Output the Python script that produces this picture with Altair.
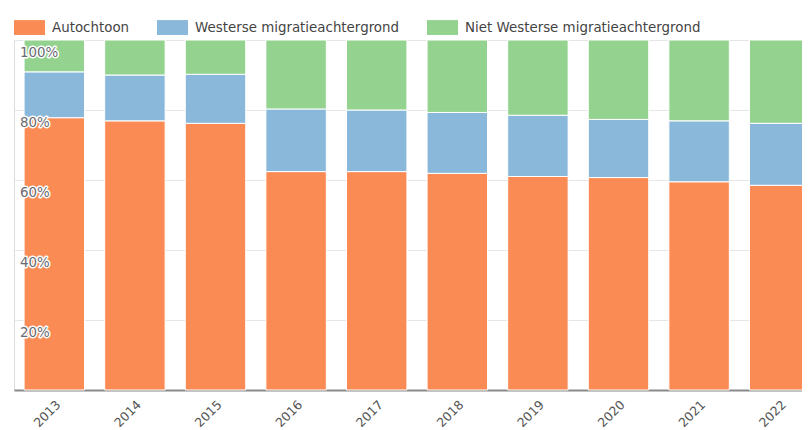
import altair as alt
import pandas as pd

years = ["2013", "2014", "2015", "2016", "2017", "2018", "2019", "2020", "2021", "2022"]
categories = ["Autochtoon", "Westerse migratieachtergrond", "Niet Westerse migratieachtergrond"]
autochtoon = [77.8, 76.9, 76.2, 62.4, 62.4, 61.9, 61.0, 60.7, 59.5, 58.5]
westers = [13.1, 13.1, 14.0, 17.9, 17.6, 17.4, 17.5, 16.6, 17.4, 17.7]
niet_westers = [9.1, 10.0, 9.8, 19.7, 20.0, 20.7, 21.5, 22.7, 23.1, 23.8]
colors = ["#FA8B55", "#8AB8DB", "#93D38F"]
tick_values = [0.2, 0.4, 0.6, 0.8, 1.0]
tick_labels = ["20%", "40%", "60%", "80%", "100%"]

rows = []
for i, y in enumerate(years):
    for j, (cat, series) in enumerate(zip(categories, [autochtoon, westers, niet_westers])):
        rows.append({"jaar": y, "groep": cat, "pct": series[i], "idx": j})
df = pd.DataFrame(rows)
labels_df = pd.DataFrame({"v": tick_values, "label": tick_labels})

font = "DejaVu Sans"

bars = alt.Chart(df).mark_bar(stroke="white", strokeWidth=1).encode(
    x=alt.X("jaar:N", sort=years,
            scale=alt.Scale(range=[0, 806], paddingInner=0.25, paddingOuter=0.125),
            axis=alt.Axis(title=None, labelAngle=-45, ticks=False, labelPadding=8,
                          labelFontSize=12.5, labelColor="#555", labelFont=font,
                          domainColor="#8a8a8a", domainWidth=2, grid=False)),
    y=alt.Y("pct:Q", stack="normalize",
            scale=alt.Scale(domain=[0, 1], nice=False),
            axis=alt.Axis(title=None, labels=False, ticks=False, domain=False,
                          grid=True, gridColor="#e6e6e6",
                          values=[0.1 * k for k in range(11)])),
    color=alt.Color("groep:N", sort=categories,
                    scale=alt.Scale(domain=categories, range=colors),
                    legend=alt.Legend(title=None, orient="none", legendX=0, legendY=-28,
                                      direction="horizontal",
                                      symbolType="M-1,-0.48L1,-0.48L1,0.48L-1,0.48Z",
                                      symbolSize=961, symbolStrokeWidth=0,
                                      labelFontSize=13.4, labelColor="#444", labelFont=font,
                                      labelLimit=0, labelOffset=7, columnPadding=27)),
    order=alt.Order("idx:Q", sort="ascending"),
)

halo = alt.Chart(labels_df).mark_text(
    align="left", baseline="middle", dy=13, fontSize=13.4, font=font,
    stroke="white", strokeWidth=3, strokeJoin="round", fill="white"
).encode(x=alt.value(6), y=alt.Y("v:Q"), text="label:N")

txt = alt.Chart(labels_df).mark_text(
    align="left", baseline="middle", dy=13, fontSize=13.4, font=font, color="#6a6a72"
).encode(x=alt.value(6), y=alt.Y("v:Q"), text="label:N")

chart = alt.layer(bars, halo, txt).properties(
    width=788, height=350,
    autosize=alt.AutoSizeParams(type="none"),
    padding={"left": 6, "top": 32, "right": 0, "bottom": 40},
).configure_view(stroke=None).configure(background="white")

chart.save("out.html", embed_options={"renderer": "svg", "actions": False})
